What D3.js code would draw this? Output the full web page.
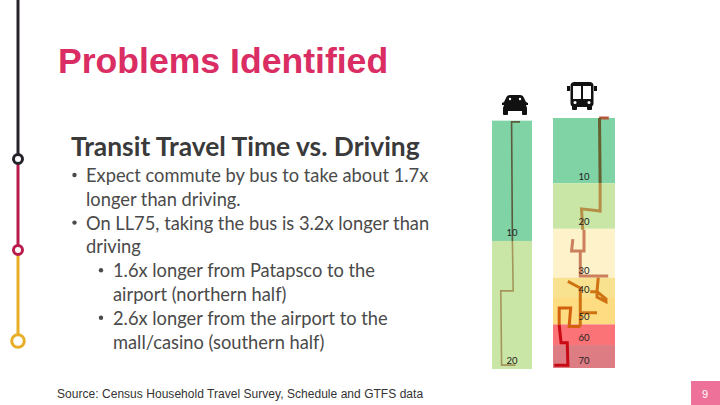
<!DOCTYPE html>
<html>
<head>
<meta charset="utf-8">
<style>
  html, body { margin: 0; padding: 0; background: #fff; overflow: hidden; }
  svg { display: block; }
  .tick-axis path { display: none; }
  .tick-axis text { font-family: Lato, sans-serif; font-size: 9.5px; fill: #222; text-anchor: middle; }
</style>
</head>
<body>
<svg id="slide" width="720" height="405"></svg>
<script src="https://cdn.jsdelivr.net/npm/d3@7"></script>
<script>
// minutes of travel, bands are the 10 minute-ish zones along each route
const carTicks = [10, 20];
const carBandEdges = [1.3, 10.7, 20.7];
const carBandColors = ["#7fd3a5", "#c9e6a6"];

const busTicks = [10, 20, 30, 40, 50, 60, 70];
const busBandEdges = [0, 11.6, 21.6, 34, 43, 54, 63.5, 73];
const busBandColors = ["#7fd3a5", "#c9e6a6", "#fdf2ca", "#f9e28f", "#fddc82", "#fb7376", "#dd7c82"];

// route legs as [position across column in %, minute]
const carLegOlive = [[70, 1.4], [49, 1.4], [51, 10.7]];
const carLegTan = [[51, 10.7], [53, 14.6], [22, 14.6], [24, 20.4], [59, 20.4]];

const busLegTop = [[90, 0], [74.5, 0]];
const busLegOlive = [[75, 0], [76, 11.6]];
const busLegTan = [[76, 11.6], [76, 17.8], [46, 17.3], [48, 21.8]];
const busLegSalmon = [[50, 21.8], [50, 26.1], [30, 26.1], [32, 23.7]];
const busLegSalmon2 = [[44, 26.1], [44, 33.2], [89, 33.2]];
const busLegLoop = [[73, 34], [71, 41], [60, 41]];
const busLegDiamond = [[71, 41], [85.5, 43.7], [85.5, 44.7], [71, 43], [71, 41]];
const busLegOrange = [[24, 36], [44, 39.5], [44, 55]];
const busLegBranch = [[44, 48.8], [71, 48.8]];
const busLegDeep = [[44, 55], [26, 55], [28.5, 47], [10, 47], [10, 54.3]];
const busLegRed = [[10, 54.3], [13, 62.5], [23, 62.5], [24, 72], [2, 72]];

const titleText = "Problems Identified";
const headingText = "Transit Travel Time vs. Driving";
const bodyLines = [
  "Expect commute by bus to take about 1.7x",
  "longer than driving.",
  "On LL75, taking the bus is 3.2x longer than",
  "driving",
  "1.6x longer from Patapsco to the",
  "airport (northern half)",
  "2.6x longer from the airport to the",
  "mall/casino (southern half)"
];
const bodyIndents = [86, 86, 86, 86, 113, 113, 113, 113];
const bulletLines = [0, 2, 4, 6];
const sourceText = "Source: Census Household Travel Survey, Schedule and GTFS data";
const pageNumber = "9";

const svg = d3.select("#slide");

// metro line decoration on the left
const stops = [
  { y0: 0, y1: 159, r: 4.5, w: 3, color: "#26232a" },
  { y0: 159, y1: 250, r: 4.5, w: 3, color: "#b81c4c" },
  { y0: 250, y1: 341, r: 6.3, w: 3, color: "#e8ae27" }
];
svg.selectAll(".metro").data(stops).join("line")
  .attr("x1", 18).attr("x2", 18)
  .attr("y1", d => d.y0).attr("y2", d => d.y1)
  .attr("stroke", d => d.color).attr("stroke-width", 3);
svg.selectAll(".stop").data(stops).join("circle")
  .attr("cx", 18).attr("cy", d => d.y1).attr("r", d => d.r)
  .attr("fill", "#fff").attr("stroke", d => d.color).attr("stroke-width", d => d.w);

svg.append("text").text(titleText)
  .attr("x", 58).attr("y", 72.5)
  .attr("font-family", "Liberation Sans").attr("font-weight", 700)
  .attr("font-size", 35.6).attr("fill", "#d92d63");

svg.append("text").text(headingText)
  .attr("x", 71).attr("y", 155.5)
  .attr("font-family", "Lato").attr("font-weight", 700)
  .attr("font-size", 26.4).attr("fill", "#3a3a3a");

svg.selectAll(".body").data(bodyLines).join("text")
  .attr("class", "body")
  .text(d => d)
  .attr("x", (d, i) => bodyIndents[i])
  .attr("y", (d, i) => 182 + i * 23.8)
  .attr("font-family", "Lato").attr("font-size", 18.3).attr("fill", "#4a4a4a");

svg.selectAll(".bullet").data(bulletLines).join("circle")
  .attr("class", "bullet")
  .attr("cx", d => bodyIndents[d] === 86 ? 74.5 : 101)
  .attr("cy", d => 182 + d * 23.8 - 7)
  .attr("r", 2.2).attr("fill", "#4a4a4a");

svg.append("text").text(sourceText)
  .attr("x", 57).attr("y", 398)
  .attr("font-family", "Liberation Sans").attr("font-size", 12)
  .attr("letter-spacing", 0.035).attr("fill", "#333");

svg.append("rect").attr("x", 691).attr("y", 381).attr("width", 29).attr("height", 24).attr("fill", "#ee7199");
svg.append("text").text(pageNumber)
  .attr("x", 705).attr("y", 398).attr("text-anchor", "middle")
  .attr("font-family", "Liberation Sans").attr("font-size", 11).attr("fill", "#fff");

// one column: bands, routes, minute labels
function drawColumn(opts) {
  const g = svg.append("g");
  const x = d3.scaleLinear().domain([0, 100]).range(opts.xRange);
  const y = d3.scaleLinear().domain(opts.knots).range(opts.knotsY);
  const line = d3.line().x(d => x(d[0])).y(d => y(d[1]));

  g.selectAll("rect").data(opts.colors).join("rect")
    .attr("x", opts.xRange[0])
    .attr("width", opts.xRange[1] - opts.xRange[0])
    .attr("y", (d, i) => y(opts.edges[i]))
    .attr("height", (d, i) => y(opts.edges[i + 1]) - y(opts.edges[i]))
    .attr("fill", d => d);

  opts.legs.forEach(leg => {
    g.append("path").attr("d", line(leg.points))
      .attr("fill", "none").attr("stroke", leg.color)
      .attr("stroke-width", opts.lineWidth)
      .attr("stroke-linejoin", "miter");
  });

  g.append("g").attr("class", "tick-axis")
    .attr("transform", `translate(${opts.labelX},0)`)
    .call(d3.axisRight(y).tickValues(opts.ticks).tickSize(0).tickPadding(0));
}

drawColumn({
  xRange: [492, 532], knots: [0, 20], knotsY: [104, 360],
  edges: carBandEdges, colors: carBandColors, ticks: carTicks,
  labelX: 512, lineWidth: 1.6,
  legs: [
    { points: carLegOlive, color: "#5b5a3e" },
    { points: carLegTan, color: "#a4965a" }
  ]
});

drawColumn({
  xRange: [553, 615],
  knots: [0, 10, 20, 30, 40, 50, 60, 70, 73],
  knotsY: [118, 176, 221, 270, 289, 316, 337, 360, 368],
  edges: busBandEdges, colors: busBandColors, ticks: busTicks,
  labelX: 584, lineWidth: 3,
  legs: [
    { points: busLegTop, color: "#b5573a" },
    { points: busLegOlive, color: "#66602f" },
    { points: busLegTan, color: "#b48f45" },
    { points: busLegSalmon, color: "#cc7f5c" },
    { points: busLegSalmon2, color: "#cc7f5c" },
    { points: busLegLoop, color: "#cf7312" },
    { points: busLegDiamond, color: "#cf7312" },
    { points: busLegOrange, color: "#cf7312" },
    { points: busLegBranch, color: "#cf7312" },
    { points: busLegDeep, color: "#d2600c" },
    { points: busLegRed, color: "#c80a14" }
  ]
});

// car icon
const car = svg.append("g").attr("fill", "#111");
car.append("path").attr("d", "M506 98 Q507 95 510 95 L520 95 Q523 95 524 98 L526 102 L528 103 L528 105 L526 105 L527 108 L527 111 L503 111 L503 108 L504 105 L502 105 L502 103 L504 102 Z");
car.append("rect").attr("x", 503).attr("y", 110).attr("width", 5).attr("height", 5).attr("rx", 1);
car.append("rect").attr("x", 522).attr("y", 110).attr("width", 5).attr("height", 5).attr("rx", 1);
car.append("circle").attr("cx", 510).attr("cy", 99).attr("r", 1.2).attr("fill", "#fff");
car.append("circle").attr("cx", 520).attr("cy", 99).attr("r", 1.2).attr("fill", "#fff");

// bus icon
const bus = svg.append("g");
bus.append("rect").attr("x", 570.5).attr("y", 82).attr("width", 23).attr("height", 25).attr("rx", 4).attr("fill", "#111");
bus.append("rect").attr("x", 572).attr("y", 105).attr("width", 5).attr("height", 5).attr("rx", 1).attr("fill", "#111");
bus.append("rect").attr("x", 587).attr("y", 105).attr("width", 5).attr("height", 5).attr("rx", 1).attr("fill", "#111");
bus.append("rect").attr("x", 567).attr("y", 86).attr("width", 3).attr("height", 5).attr("fill", "#111");
bus.append("rect").attr("x", 594).attr("y", 86).attr("width", 3).attr("height", 5).attr("fill", "#111");
bus.append("rect").attr("x", 573).attr("y", 86).attr("width", 8).attr("height", 13).attr("fill", "#fff");
bus.append("rect").attr("x", 583).attr("y", 86).attr("width", 8).attr("height", 13).attr("fill", "#fff");
bus.append("circle").attr("cx", 575).attr("cy", 102.5).attr("r", 1.5).attr("fill", "#fff");
bus.append("circle").attr("cx", 589).attr("cy", 102.5).attr("r", 1.5).attr("fill", "#fff");
</script>
</body>
</html>
